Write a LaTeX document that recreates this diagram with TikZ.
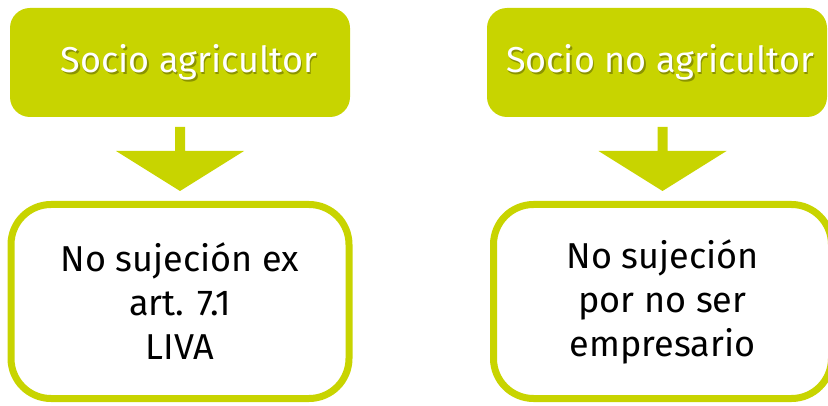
\documentclass[tikz,border=0pt]{standalone}
\usepackage{fontspec}
\setmainfont{Fira Sans}
\usetikzlibrary{positioning}
\definecolor{lima}{RGB}{200,212,0}
\tikzset{
    socio/.style={rectangle,rounded corners=20pt,fill=lima,outer sep=0pt,minimum width=340pt,minimum height=109pt},
    caso/.style={rectangle,rounded corners=40pt,draw=lima,line width=7pt,fill=white,outer sep=0pt,
        minimum width=338pt,minimum height=194pt,align=center,font=\fontsize{36}{44}\selectfont},
    titulo/.style={text=white,font=\fontsize{36}{44}\selectfont},
    sombra/.style={text=black,opacity=0.3,font=\fontsize{36}{44}\selectfont},
    flecha/.style={fill=lima}
}

\begin{document}
\begin{tikzpicture}[x=1pt,y=1pt]

                \useasboundingbox (0,0) rectangle (828,405);
                \clip (0,0) rectangle (828,405);

                \node[socio] (agr) at (180,342.5) {};
                \node[socio] (no agr) [right=137pt of agr] {};

                \node[caso] (liva) [below=87.5pt of agr] {No sujeción ex\\art. 7.1\\LIVA};
                \node[caso] (empresario) [below=87.5pt of no agr,xshift=5.5pt] {No sujeción\\por no ser\\empresario};

                \node[sombra] at ([shift={(10.5pt,-1.5pt)}]agr.center) {Socio agricultor};
                \node[titulo] (agr text) at ([xshift=9pt]agr.center) {Socio agricultor};
                \node[sombra] at ([shift={(4.5pt,-1.5pt)}]no agr.center) {Socio no agricultor};
                \node[titulo] (no agr text) at ([xshift=3pt]no agr.center) {Socio no agricultor};

                \fill[flecha] ([shift={(-5pt,-10pt)}]liva.north |- agr.south) -- ++(0,-24pt) -- ++(-59pt,0)
                    -- ([yshift=13.5pt]liva.north) -- ++(64pt,40pt) -- ++(-59pt,0) -- ++(0,24pt) -- cycle;
                \fill[flecha] ([shift={(-5pt,-10pt)}]empresario.north |- no agr.south) -- ++(0,-24pt) -- ++(-59pt,0)
                    -- ([yshift=13.5pt]empresario.north) -- ++(64pt,40pt) -- ++(-59pt,0) -- ++(0,24pt) -- cycle;

            \end{tikzpicture}
\end{document}
